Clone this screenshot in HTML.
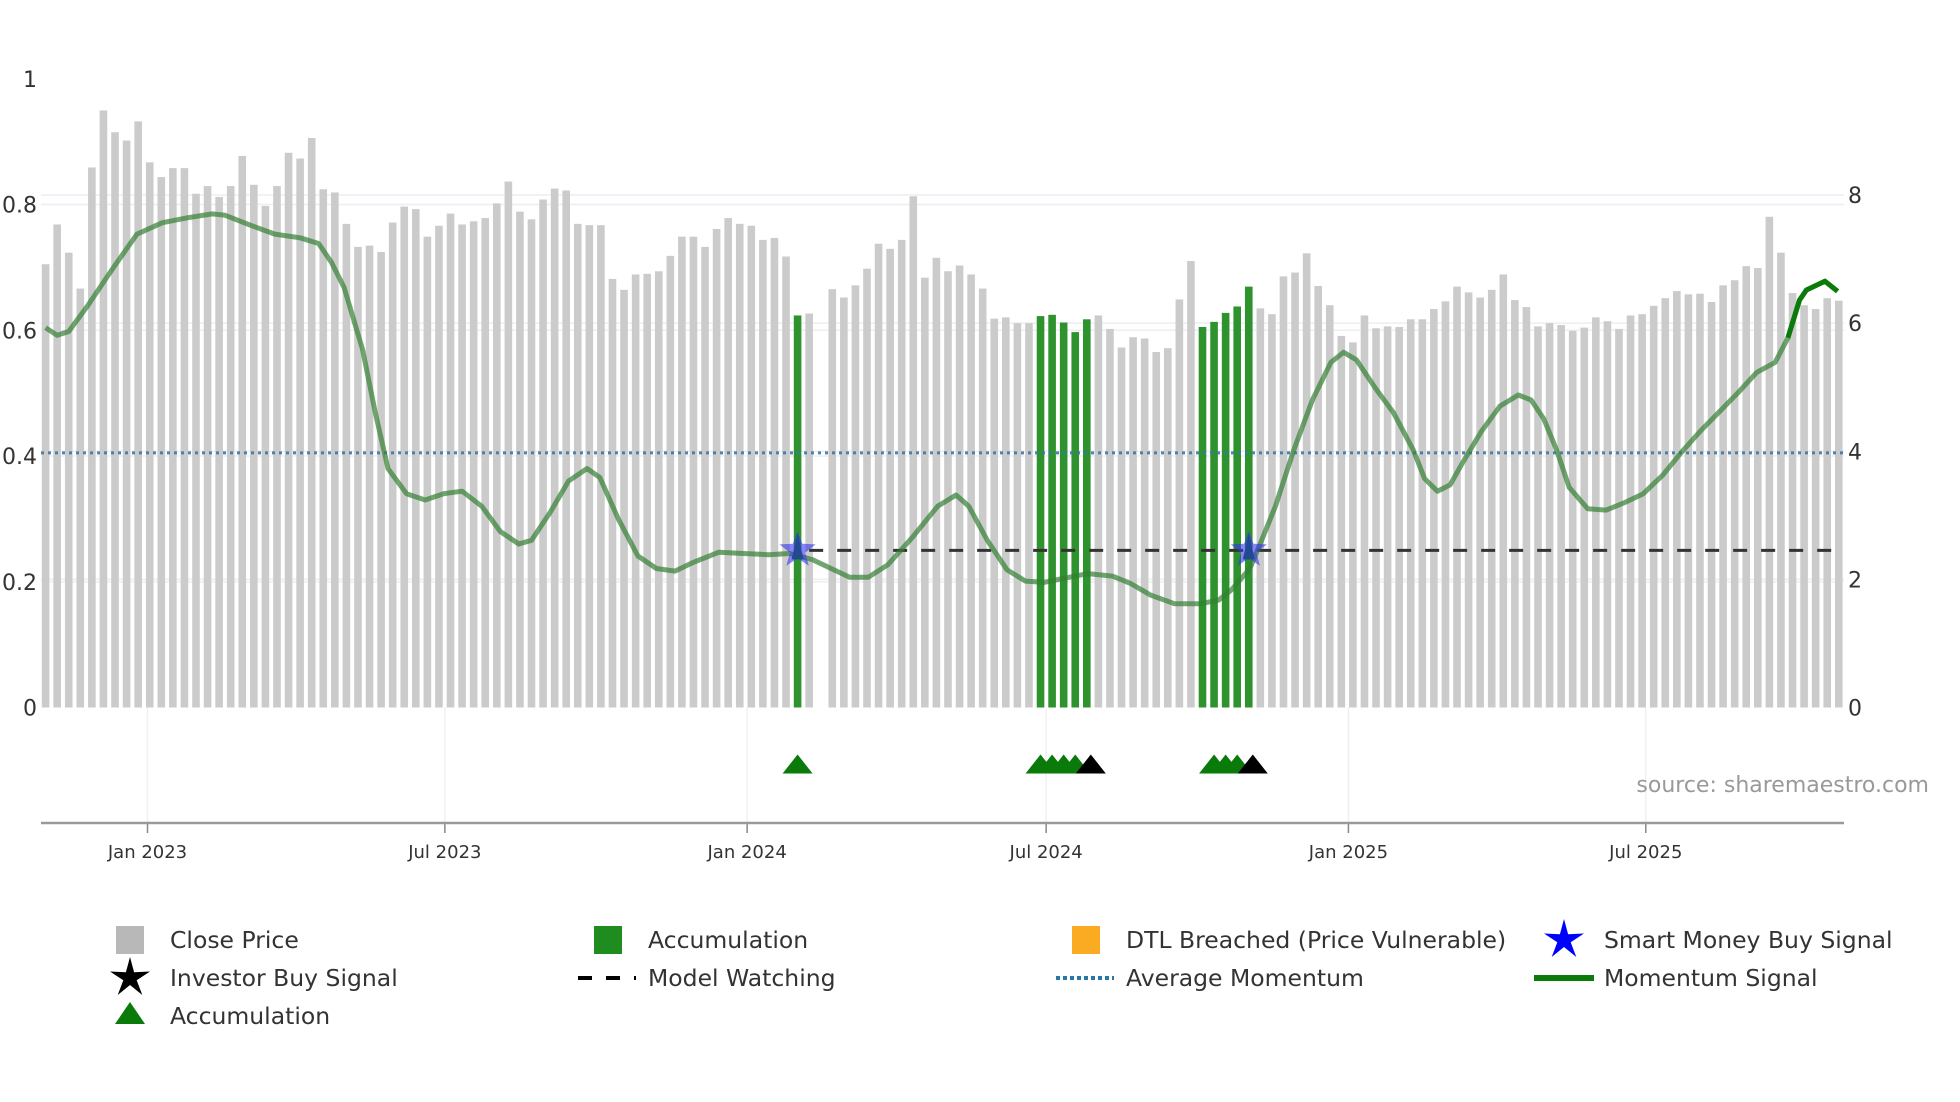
<!DOCTYPE html>
<html><head><meta charset="utf-8"><style>
html,body{margin:0;padding:0;background:#fff;}
svg{display:block;font-family:"DejaVu Sans","Liberation Sans",sans-serif;}
</style></head><body>
<svg id="chart" width="1960" height="1102" viewBox="0 0 1960 1102" xmlns="http://www.w3.org/2000/svg">
<g id="grid"></g>
<g id="bars"></g>
<g id="lines"></g>
<g id="marks"></g>
<g id="axes"></g>
<text x="1929" y="792" text-anchor="end" font-size="22" fill="#999">source: sharemaestro.com</text>
<g id="legend"></g>
</svg>
<script>
const prices = [6.92,7.54,7.10,6.54,8.43,9.32,8.98,8.85,9.15,8.51,
8.28,8.42,8.42,8.02,8.14,7.97,8.14,8.61,8.16,7.83,
8.14,8.66,8.57,8.89,8.09,8.04,7.55,7.19,7.21,7.11,
7.57,7.82,7.78,7.35,7.52,7.71,7.54,7.59,7.64,7.87,
8.21,7.74,7.62,7.93,8.10,8.07,7.55,7.53,7.53,6.69,
6.52,6.76,6.77,6.81,7.05,7.35,7.35,7.19,7.47,7.64,
7.55,7.52,7.30,7.33,7.04,6.12,6.15,null,6.53,6.40,
6.59,6.85,7.24,7.16,7.30,7.98,6.71,7.02,6.81,6.90,
6.76,6.54,6.07,6.09,6.00,6.00,6.11,6.13,6.01,5.86,
6.06,6.12,5.91,5.62,5.78,5.76,5.55,5.61,6.37,6.97,
5.94,6.02,6.16,6.26,6.57,6.23,6.14,6.73,6.79,7.09,
6.58,6.28,5.80,5.70,6.12,5.92,5.95,5.94,6.06,6.06,
6.22,6.34,6.57,6.48,6.40,6.52,6.76,6.36,6.25,5.95,
6.00,5.97,5.88,5.93,6.09,6.03,5.91,6.12,6.14,6.27,
6.39,6.50,6.45,6.46,6.33,6.59,6.67,6.89,6.86,7.66,
7.10,6.47,6.28,6.22,6.39,6.35];
const accumBars = [65,86,87,88,89,90,100,101,102,103,104];
const accumTriangles = [65,86,87,88,89,101,102,103];
const investorTriangles = [90,104];
const smartMoneyStars = [65,104];
const starLevel = 0.25;
const momIdx = [0,1,2,3.6,5.8,7.9,10.1,12.3,14.4,15.5,17.7,19.8,22,23.6,24.7,25.8,27.4,28.5,29.6,31.2,32.8,34.4,36,37.7,39.3,40.9,42,43.6,45.2,46.8,47.9,49.5,51.2,52.8,54.4,56,58.2,60.3,62.5,64.3,66.3,67.9,69.5,71.1,72.8,74.9,77.1,78.7,79.8,81.4,83.1,84.7,86.3,87.9,90.1,92.2,93.8,95.5,97.6,99.8,101.4,102.5,104.1,105.2,106.3,107.9,109.5,111.1,112.2,113.3,114.9,116.5,118.2,119.2,120.3,121.4,122.5,124.1,125.7,127.3,128.4,129.5,130.6,131.7,133.3,134.9,136.5,138.1,139.8,141.4,143,144.6,146.2,147.9,149.5,150.6,151.6,152.2,153.8,154.9];
const momVal = [0.604,0.592,0.598,0.638,0.698,0.753,0.771,0.779,0.785,0.783,0.767,0.753,0.747,0.738,0.708,0.668,0.569,0.469,0.380,0.340,0.330,0.340,0.344,0.320,0.280,0.260,0.266,0.310,0.360,0.380,0.366,0.300,0.241,0.221,0.217,0.231,0.247,0.245,0.243,0.245,0.235,0.221,0.207,0.207,0.227,0.270,0.320,0.338,0.320,0.266,0.219,0.201,0.199,0.205,0.213,0.209,0.197,0.179,0.165,0.165,0.171,0.187,0.221,0.270,0.320,0.410,0.489,0.549,0.565,0.553,0.509,0.469,0.410,0.364,0.344,0.354,0.390,0.439,0.479,0.497,0.489,0.459,0.410,0.350,0.316,0.314,0.326,0.340,0.370,0.406,0.439,0.469,0.499,0.533,0.549,0.588,0.648,0.664,0.678,0.662];
const signalStartIdx = 150.6;
const avgMomentum = 0.405;
const watchStartIdx = 66;
const watchLevel = 0.25;
const leftTicks = [0,0.2,0.4,0.6,0.8,1];
const leftTickLabels = ["0","0.2","0.4","0.6","0.8","1"];
const rightTicks = [0,2,4,6,8];
const dateTicks = ["2023-01-01","2023-07-01","2024-01-01","2024-07-01","2025-01-01","2025-07-01"];
const dateTickLabels = ["Jan 2023","Jul 2023","Jan 2024","Jul 2024","Jan 2025","Jul 2025"];
const axisStartDate = "2023-01-01";

const NS="http://www.w3.org/2000/svg";
const PL=41, PR=1844, Y0=707.5, YTOP=78.75, AXY=823;
const PRICE_MAX=9.815;
const dA=Date.parse(axisStartDate);
const xIdx=i=>45.6+i*11.569;
const xDate=s=>147.5+(Date.parse(s)-dA)/(7*864e5)*11.5;
const yL=v=>Y0-v*(Y0-YTOP);
const yP=p=>Y0-p/PRICE_MAX*(Y0-YTOP);
function mk(tag,attrs,parent){const e=document.createElementNS(NS,tag);for(const k in attrs)e.setAttribute(k,attrs[k]);parent.appendChild(e);return e;}
const G=document.getElementById('grid'),B=document.getElementById('bars'),L=document.getElementById('lines'),M=document.getElementById('marks'),A=document.getElementById('axes'),LG=document.getElementById('legend');

leftTicks.forEach((t,i)=>{
  if(t>0&&t<1){const g=mk('line',{x1:PL,x2:PR,y1:yL(t),y2:yL(t),stroke:'#eceef2','stroke-width':1.5},G);
  
  }
  const tx=mk('text',{x:37,y:yL(t)+8,'text-anchor':'end','font-size':22,fill:'#333'},A);tx.textContent=leftTickLabels[i];
  
  
});
rightTicks.forEach(t=>{
  if(t>0){const g=mk('line',{x1:PL,x2:PR,y1:yP(t),y2:yP(t),stroke:'#eceef2','stroke-width':1.5},G);
  
  }
  const tx=mk('text',{x:1848,y:yP(t)+8,'font-size':22,fill:'#333'},A);tx.textContent=String(t);
  
  
});
dateTicks.forEach((d,i)=>{
  const x=xDate(d);
  const g=mk('line',{x1:x,x2:x,y1:Y0,y2:AXY,stroke:'#eef0f3','stroke-width':1.5},G);
  
  
  const tk=mk('line',{x1:x,x2:x,y1:AXY,y2:AXY+10,stroke:'#888','stroke-width':1.5},A);
  
  
  const tx=mk('text',{x:x,y:858,'text-anchor':'middle','font-size':18,fill:'#333'},A);tx.textContent=dateTickLabels[i];
  
  
});
const ax=mk('line',{x1:PL,x2:PR,y1:AXY,y2:AXY,stroke:'#999','stroke-width':2.5},A);



prices.forEach((p,i)=>{
  if(p==null)return;
  const acc=accumBars.includes(i);
  const r=mk('rect',{x:xIdx(i)-3.8,y:yP(p),width:7.6,height:Y0-yP(p),fill:acc?'#2e922e':'#cbcbcb'},B);
  
  
});

const av=mk('line',{x1:PL,x2:PR,y1:yL(avgMomentum),y2:yL(avgMomentum),stroke:'#3a78a8','stroke-width':3,'stroke-dasharray':'3 4',opacity:0.9},L);


const wl=mk('line',{x1:xIdx(watchStartIdx),x2:xIdx(prices.length-1)+2,y1:yL(watchLevel),y2:yL(watchLevel),stroke:'#333','stroke-width':3,'stroke-dasharray':'14 14'},L);



let d='';momIdx.forEach((ix,k)=>{d+=(k?'L':'M')+xIdx(ix).toFixed(1)+','+yL(momVal[k]).toFixed(1);});
const ml=mk('path',{d:d,fill:'none',stroke:'#337f33','stroke-width':5,opacity:0.7,'stroke-linejoin':'round'},L);


let d2='';let first=true;momIdx.forEach((ix,k)=>{if(ix>=signalStartIdx){d2+=(first?'M':'L')+xIdx(ix).toFixed(1)+','+yL(momVal[k]).toFixed(1);first=false;}});
const sl=mk('path',{d:d2,fill:'none',stroke:'#0a7a0a','stroke-width':5,'stroke-linejoin':'round'},L);



function starPath(cx,cy,R,r){let s='';for(let k=0;k<10;k++){const a=-Math.PI/2+k*Math.PI/5;const rr=k%2?r:R;s+=(k?'L':'M')+(cx+rr*Math.cos(a)).toFixed(1)+','+(cy+rr*Math.sin(a)).toFixed(1);}return s+'Z';}
function triPath(cx,cy,w,h){return `M${cx-w/2},${cy+h/2}L${cx},${cy-h/2}L${cx+w/2},${cy+h/2}Z`;}
smartMoneyStars.forEach(i=>{
  const cx=xIdx(i),cy=yL(starLevel);
  const t=mk('path',{d:triPath(cx,cy-4,12,26),fill:'#0a6a0a'},M);
  
  
  const s=mk('path',{d:starPath(cx,cy,19,8),fill:'#3333ee',opacity:0.6},M);
  
  
});
accumTriangles.forEach(i=>{
  const t=mk('path',{d:triPath(xIdx(i),764,30,19),fill:'#0a7a0a'},M);
  
  
});
investorTriangles.forEach(i=>{
  const t=mk('path',{d:triPath(xIdx(i)+4,764,30,19),fill:'#000'},M);
  
  
});

const legendItems=[
 ['close-price','Close Price',130,940,'sq','#b8b8b8'],
 ['accumulation-bar','Accumulation',608,940,'sq','#1e8c1e'],
 ['dtl-breached','DTL Breached (Price Vulnerable)',1086,940,'sq','#fbab22'],
 ['smart-money','Smart Money Buy Signal',1564,940,'star','#0000ff'],
 ['investor-buy','Investor Buy Signal',130,978,'star','#000'],
 ['model-watching','Model Watching',608,978,'dash','#000'],
 ['average-momentum','Average Momentum',1086,978,'dot','#2a78a8'],
 ['momentum-signal','Momentum Signal',1564,978,'line','#0a7a0a'],
 ['accumulation-marker','Accumulation',130,1016,'tri','#0a7a0a']];
legendItems.forEach(([n,label,x,y,type,c])=>{
  const g=mk('g',{},LG);
  
  
  if(type==='sq')mk('rect',{x:x-14,y:y-14,width:28,height:28,fill:c},g);
  if(type==='star')mk('path',{d:starPath(x,y,21,7),fill:c},g);
  if(type==='dash')mk('line',{x1:x-30,x2:x+28,y1:y,y2:y,stroke:c,'stroke-width':4,'stroke-dasharray':'14 14'},g);
  if(type==='dot')mk('line',{x1:x-30,x2:x+28,y1:y,y2:y,stroke:c,'stroke-width':4,'stroke-dasharray':'4 3'},g);
  if(type==='line')mk('line',{x1:x-30,x2:x+30,y1:y,y2:y,stroke:c,'stroke-width':6},g);
  if(type==='tri')mk('path',{d:triPath(x,y-3,30,22),fill:c},g);
  const t=mk('text',{x:x+40,y:y+8,'font-size':23.5,fill:'#333'},g);t.textContent=label;
});
</script>
</body></html>
